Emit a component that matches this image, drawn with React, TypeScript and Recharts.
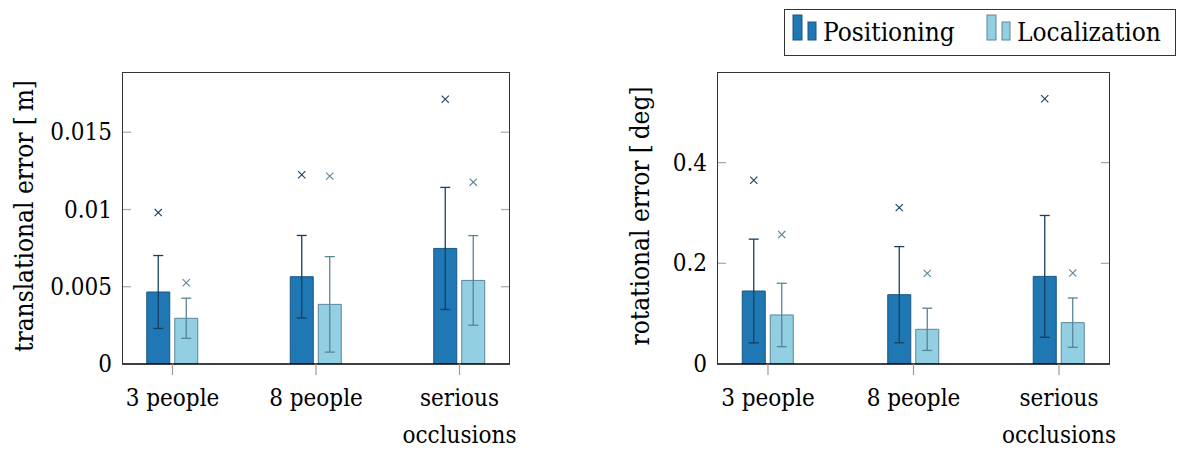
import React from 'react';
import { BarChart, Bar, XAxis, YAxis, ErrorBar } from 'recharts';

// Scenario categories (two-line labels for the long one)
const categories = ['3 people', '8 people', 'serious occlusions'];
const categoryLines = [['3 people'], ['8 people'], ['serious', 'occlusions']];

// Translational error [m]: mean, standard deviation and maximum
const transPosMean = [0.00466, 0.00565, 0.00748];
const transPosStd = [0.00236, 0.00267, 0.00395];
const transPosMax = [0.0098, 0.01225, 0.01714];
const transLocMean = [0.00296, 0.00386, 0.00541];
const transLocStd = [0.0013, 0.00309, 0.0029];
const transLocMax = [0.00526, 0.01216, 0.01177];

// Rotational error [deg]: mean, standard deviation and maximum
const rotPosMean = [0.145, 0.1377, 0.174];
const rotPosStd = [0.103, 0.0955, 0.121];
const rotPosMax = [0.365, 0.3106, 0.527];
const rotLocMean = [0.0974, 0.0689, 0.0821];
const rotLocStd = [0.063, 0.042, 0.049];
const rotLocMax = [0.257, 0.18, 0.1808];

const transTicks = [0, 0.005, 0.01, 0.015];
const transTickLabels = ['0', '0.005', '0.01', '0.015'];
const rotTicks = [0, 0.2, 0.4];
const rotTickLabels = ['0', '0.2', '0.4'];

const seriesNames = ['Positioning', 'Localization'];

const FONT = "'DejaVu Serif Condensed', 'DejaVu Serif', serif";
const TICK_FS = 24;
const POS_FILL = '#1f77b4';
const POS_STROKE = '#1b5682';
const POS_ERR = '#173f60';
const LOC_FILL = '#92cfe3';
const LOC_STROKE = '#5a8697';
const LOC_ERR = '#5a8494';

function buildRows(pMean: number[], pStd: number[], pMax: number[], lMean: number[], lStd: number[], lMax: number[]) {
  return categories.map((name, i) => ({
    name,
    pMean: pMean[i],
    pStd: pStd[i],
    pGap: pMax[i] - pMean[i],
    lMean: lMean[i],
    lStd: lStd[i],
    lGap: lMax[i] - lMean[i],
  }));
}

const transRows = buildRows(transPosMean, transPosStd, transPosMax, transLocMean, transLocStd, transLocMax);
const rotRows = buildRows(rotPosMean, rotPosStd, rotPosMax, rotLocMean, rotLocStd, rotLocMax);

// Draws an "x" marker at the top of an invisible stacked segment (= the maximum)
const makeCross = (color: string) => (props: any) => {
  const { x, y, width } = props;
  if (x == null || y == null) return null;
  const cx = x + width / 2;
  const s = 3.6;
  return (
    <g stroke={color} strokeWidth={1.1}>
      <line x1={cx - s} y1={y - s} x2={cx + s} y2={y + s} />
      <line x1={cx - s} y1={y + s} x2={cx + s} y2={y - s} />
    </g>
  );
};

const XTick = (props: any) => {
  const { x, y, payload } = props;
  const idx = categories.indexOf(payload.value);
  const lines = idx >= 0 ? categoryLines[idx] : [payload.value];
  return (
    <text x={x} y={y} textAnchor="middle" fontFamily={FONT} fontSize={TICK_FS} fill="#000">
      {lines.map((l, i) => (
        <tspan key={i} x={x} dy={i === 0 ? 31 : 37}>
          {l}
        </tspan>
      ))}
    </text>
  );
};

const makeYTick = (ticks: number[], labels: string[], plotWidth: number) => (props: any) => {
  const { x, y, payload } = props;
  const axisX = x + 10;
  const idx = ticks.indexOf(payload.value);
  return (
    <g>
      <text x={x} y={y} textAnchor="end" dominantBaseline="central" fontFamily={FONT} fontSize={TICK_FS} fill="#000">
        {idx >= 0 ? labels[idx] : payload.value}
      </text>
      {payload.value !== 0 && (
        <g stroke="#a6a6a6" strokeWidth={1.2}>
          <line x1={axisX} x2={axisX + 9} y1={y} y2={y} />
          <line x1={axisX + plotWidth - 9} x2={axisX + plotWidth} y1={y} y2={y} />
        </g>
      )}
    </g>
  );
};

type PanelProps = {
  left: number;
  rows: any[];
  plotLeft: number;
  plotRight: number;
  yMax: number;
  ticks: number[];
  labels: string[];
  title: string;
  titleX: number;
  catPad: number;
};

const PANEL_W = 596;
const PLOT_TOP = 72;
const PLOT_BOTTOM = 364;
const Y_AXIS_W = 60;
const X_AXIS_H = 60;

function Panel({ left, rows, plotLeft, plotRight, yMax, ticks, labels, title, titleX, catPad }: PanelProps) {
  const plotWidth = plotRight - plotLeft;
  return (
    <div style={{ position: 'absolute', left, top: 0, width: PANEL_W, height: 450 }}>
      <BarChart
        width={PANEL_W}
        height={450}
        data={rows}
        barSize={23}
        barGap={5}
        margin={{
          top: PLOT_TOP,
          left: plotLeft - Y_AXIS_W,
          right: PANEL_W - plotRight,
          bottom: 450 - PLOT_BOTTOM - X_AXIS_H,
        }}
      >
        <XAxis
          dataKey="name"
          height={X_AXIS_H}
          interval={0}
          padding={{ left: catPad, right: catPad }}
          axisLine={{ stroke: '#000', strokeWidth: 1.4 }}
          tickLine={{ stroke: '#9a9a9a', strokeWidth: 1.2 }}
          tickSize={11}
          tickMargin={0}
          tick={<XTick />}
        />
        <YAxis
          width={Y_AXIS_W}
          domain={[0, yMax]}
          ticks={ticks}
          allowDataOverflow
          axisLine={false}
          tickLine={false}
          tickSize={0}
          tickMargin={10}
          tick={makeYTick(ticks, labels, plotWidth)}
        />
        <Bar dataKey="pMean" stackId="p" fill={POS_FILL} stroke={POS_STROKE} strokeWidth={1} isAnimationActive={false}>
          <ErrorBar dataKey="pStd" width={5} stroke={POS_ERR} strokeWidth={1.3} direction="y" />
        </Bar>
        <Bar dataKey="pGap" stackId="p" fill="none" isAnimationActive={false} shape={makeCross(POS_ERR)} />
        <Bar dataKey="lMean" stackId="l" fill={LOC_FILL} stroke={LOC_STROKE} strokeWidth={1} isAnimationActive={false}>
          <ErrorBar dataKey="lStd" width={5} stroke={LOC_ERR} strokeWidth={1.3} direction="y" />
        </Bar>
        <Bar dataKey="lGap" stackId="l" fill="none" isAnimationActive={false} shape={makeCross(LOC_ERR)} />
      </BarChart>
      {/* axis box (bottom edge is the x axis line) */}
      <div
        style={{
          position: 'absolute',
          left: plotLeft,
          top: PLOT_TOP,
          width: plotWidth,
          height: PLOT_BOTTOM - PLOT_TOP,
          border: '1px solid #333',
          borderBottom: 'none',
          boxSizing: 'border-box',
          pointerEvents: 'none',
        }}
      />
      <div
        style={{
          position: 'absolute',
          left: titleX,
          top: (PLOT_TOP + PLOT_BOTTOM) / 2 - 2,
          transform: 'translate(-50%, -50%) rotate(-90deg)',
          whiteSpace: 'nowrap',
          fontFamily: FONT,
          fontSize: 26,
          color: '#000',
          lineHeight: 1,
        }}
      >
        {title}
      </div>
    </div>
  );
}

function Legend() {
  const items = [
    { name: seriesNames[0], fill: POS_FILL, stroke: POS_STROKE, x: 9 },
    { name: seriesNames[1], fill: LOC_FILL, stroke: LOC_STROKE, x: 203 },
  ];
  return (
    <svg style={{ position: 'absolute', left: 784, top: 9 }} width={392} height={47}>
      <rect x={0.5} y={0.5} width={391} height={46} fill="#fff" stroke="#333" strokeWidth={1} />
      {items.map((it) => (
        <g key={it.name}>
          <rect x={it.x} y={6} width={9} height={25} fill={it.fill} stroke={it.stroke} />
          <rect x={it.x + 15} y={13} width={8} height={18} fill={it.fill} stroke={it.stroke} />
          <text x={it.x + 30} y={32} fontFamily={FONT} fontSize={26} fill="#000">
            {it.name}
          </text>
        </g>
      ))}
    </svg>
  );
}

export default function App() {
  return (
    <div style={{ position: 'absolute', left: 0, top: 0, width: 1192, height: 450, background: '#fff', overflow: 'hidden' }}>
      <Panel
        left={0}
        rows={transRows}
        plotLeft={122}
        plotRight={510}
        yMax={0.0189}
        ticks={transTicks}
        labels={transTickLabels}
        title={'translational error [\u2009m]'}
        titleX={24}
        catPad={-21.25}
      />
      <Panel
        left={596}
        rows={rotRows}
        plotLeft={121}
        plotRight={514}
        yMax={0.58}
        ticks={rotTicks}
        labels={rotTickLabels}
        title={'rotational error [\u2009deg]'}
        titleX={44}
        catPad={-21.75}
      />
      <Legend />
    </div>
  );
}
